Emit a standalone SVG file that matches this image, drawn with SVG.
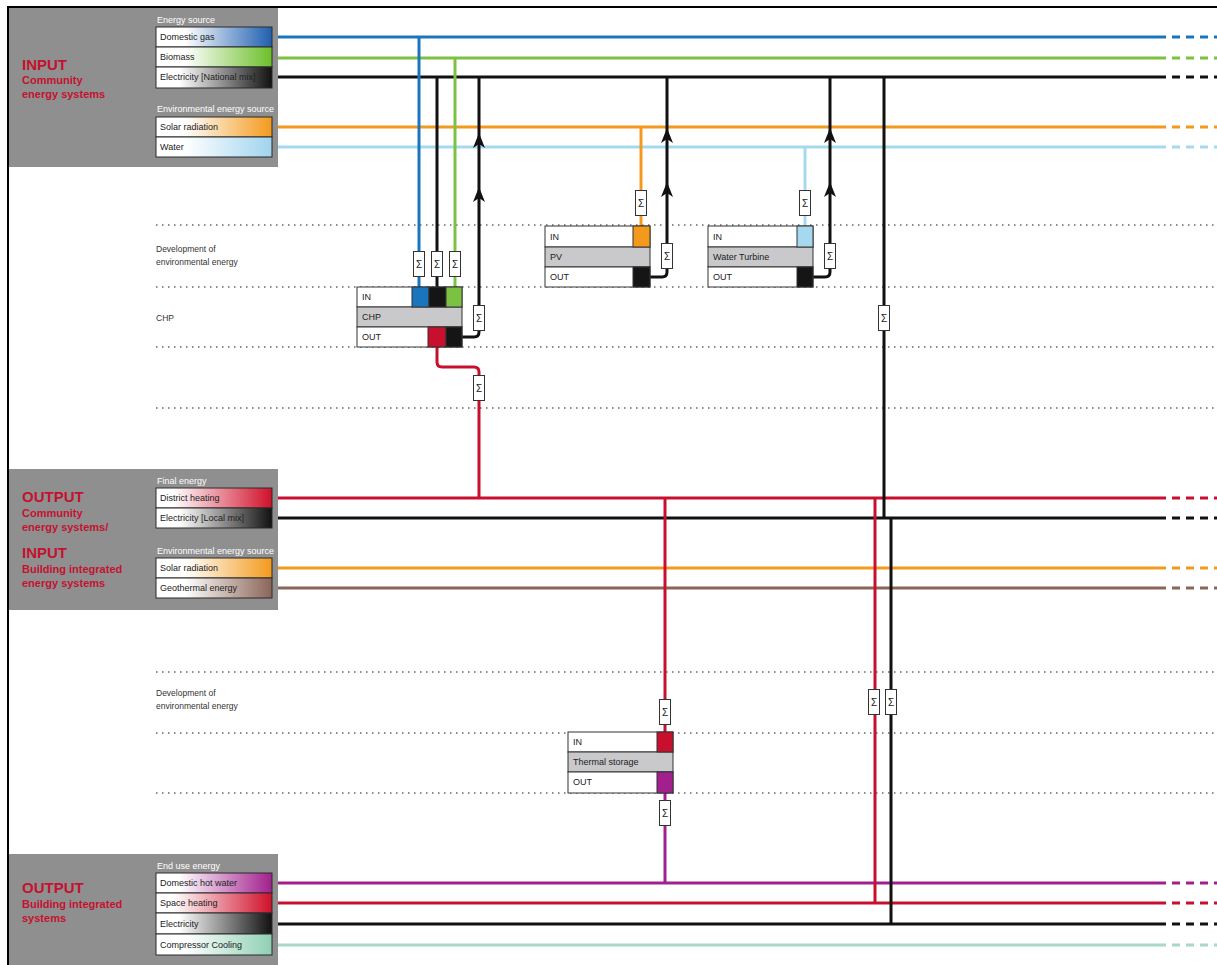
<svg xmlns="http://www.w3.org/2000/svg" width="1217" height="965" viewBox="0 0 1217 965">
<style>
text{font-family:"Liberation Sans",Arial,sans-serif;}
.panel{fill:#8f8f90;}
.hd{font-size:15px;font-weight:bold;fill:#c4122f;}
.sub{font-size:11px;font-weight:bold;fill:#c4122f;}
.cap{font-size:9px;fill:#fff;}
.lbl{font-size:9px;fill:#222;}
.box{stroke:#2a2a2a;stroke-width:1;}
.dot{stroke:#666;stroke-width:1.3;stroke-dasharray:1.5 4.5;fill:none;}
.side{font-size:8.5px;fill:#333;}
.sig rect{fill:#fff;stroke:#333;stroke-width:1;}
.sig text{font-size:10px;fill:#222;text-anchor:middle;}
.ln{fill:none;stroke-width:3;}
.dash{fill:none;stroke-width:3;stroke-dasharray:8 6;}
.blk{fill:#fff;stroke:#333;stroke-width:1;}
.mid{fill:#c9c9cb;stroke:#333;stroke-width:1;}
.ah{fill:#111;}
</style>
<defs>
<linearGradient id="gBlue"><stop offset="0.25" stop-color="#fff"/><stop offset="1" stop-color="#1f5fb0"/></linearGradient>
<linearGradient id="gGreen"><stop offset="0.25" stop-color="#fff"/><stop offset="1" stop-color="#6cbf2a"/></linearGradient>
<linearGradient id="gBlack"><stop offset="0.2" stop-color="#fff"/><stop offset="1" stop-color="#111"/></linearGradient>
<linearGradient id="gOrange"><stop offset="0.25" stop-color="#fff"/><stop offset="1" stop-color="#f39a1c"/></linearGradient>
<linearGradient id="gLBlue"><stop offset="0.25" stop-color="#fff"/><stop offset="1" stop-color="#9fd4ee"/></linearGradient>
<linearGradient id="gRed"><stop offset="0.15" stop-color="#fff"/><stop offset="1" stop-color="#d0102a"/></linearGradient>
<linearGradient id="gBrown"><stop offset="0.25" stop-color="#fff"/><stop offset="1" stop-color="#8a6558"/></linearGradient>
<linearGradient id="gPurple"><stop offset="0.2" stop-color="#fff"/><stop offset="1" stop-color="#a2208e"/></linearGradient>
<linearGradient id="gMint"><stop offset="0.25" stop-color="#fff"/><stop offset="1" stop-color="#8fd0b4"/></linearGradient>
<path id="arrow" class="ah" d="M0 0 L6 15 L0 11 L-6 15 Z"/>
<g id="sigma" class="sig"><rect x="-5.5" y="-12.5" width="11" height="25"/><text x="0" y="4">Σ</text></g>
</defs>

<rect x="0" y="0" width="1217" height="965" fill="#fff"/>
<path d="M8 965 V7 H1217" fill="none" stroke="#000" stroke-width="2"/>

<!-- dotted guide lines -->
<g id="guides">
<line class="dot" x1="156" y1="225" x2="1214" y2="225"/>
<line class="dot" x1="156" y1="287" x2="1214" y2="287"/>
<line class="dot" x1="156" y1="347" x2="1214" y2="347"/>
<line class="dot" x1="156" y1="408" x2="1214" y2="408"/>
<line class="dot" x1="156" y1="672" x2="1214" y2="672"/>
<line class="dot" x1="156" y1="733" x2="1214" y2="733"/>
<line class="dot" x1="156" y1="793" x2="1214" y2="793"/>
<text class="side" x="156" y="252">Development of</text>
<text class="side" x="156" y="265">environmental energy</text>
<text class="side" x="156" y="321">CHP</text>
<text class="side" x="156" y="696">Development of</text>
<text class="side" x="156" y="709">environmental energy</text>
</g>

<!-- horizontal bus lines -->
<g id="buses">
<line class="ln" stroke="#1b75bc" x1="272" y1="37" x2="1166" y2="37"/><line class="dash" stroke="#1b75bc" x1="1172" y1="37" x2="1217" y2="37"/>
<line class="ln" stroke="#7cc242" x1="272" y1="58" x2="1166" y2="58"/><line class="dash" stroke="#7cc242" x1="1172" y1="58" x2="1217" y2="58"/>
<line class="ln" stroke="#111" x1="272" y1="77" x2="1166" y2="77"/><line class="dash" stroke="#111" x1="1172" y1="77" x2="1217" y2="77"/>
<line class="ln" stroke="#f39a1c" x1="272" y1="127" x2="1166" y2="127"/><line class="dash" stroke="#f39a1c" x1="1172" y1="127" x2="1217" y2="127"/>
<line class="ln" stroke="#a6d8f0" x1="272" y1="147" x2="1166" y2="147"/><line class="dash" stroke="#a6d8f0" x1="1172" y1="147" x2="1217" y2="147"/>
<line class="ln" stroke="#c8102e" x1="272" y1="498" x2="1166" y2="498"/><line class="dash" stroke="#c8102e" x1="1172" y1="498" x2="1217" y2="498"/>
<line class="ln" stroke="#111" stroke-width="2" x1="272" y1="518" x2="1166" y2="518"/><line class="dash" stroke="#111" stroke-width="2.5" x1="1172" y1="518" x2="1217" y2="518"/>
<line class="ln" stroke="#f39a1c" x1="272" y1="568" x2="1166" y2="568"/><line class="dash" stroke="#f39a1c" x1="1172" y1="568" x2="1217" y2="568"/>
<line class="ln" stroke="#8a6558" x1="272" y1="588" x2="1166" y2="588"/><line class="dash" stroke="#8a6558" x1="1172" y1="588" x2="1217" y2="588"/>
<line class="ln" stroke="#a2208e" x1="272" y1="883" x2="1166" y2="883"/><line class="dash" stroke="#a2208e" x1="1172" y1="883" x2="1217" y2="883"/>
<line class="ln" stroke="#c8102e" x1="272" y1="903" x2="1166" y2="903"/><line class="dash" stroke="#c8102e" x1="1172" y1="903" x2="1217" y2="903"/>
<line class="ln" stroke="#111" x1="272" y1="924" x2="1166" y2="924"/><line class="dash" stroke="#111" x1="1172" y1="924" x2="1217" y2="924"/>
<line class="ln" stroke="#a8d8c6" x1="272" y1="945" x2="1166" y2="945"/><line class="dash" stroke="#a8d8c6" x1="1172" y1="945" x2="1217" y2="945"/>
</g>

<!-- connectors -->
<g id="connectors">
<path class="ln" stroke="#1b75bc" d="M419 37 V287"/>
<path class="ln" stroke="#111" d="M437 77 V287"/>
<path class="ln" stroke="#7cc242" d="M455 58 V287"/>
<path class="ln" stroke="#111" d="M462 337 H474 Q479 337 479 332 V77"/>
<path class="ln" stroke="#c8102e" d="M437 347 V362 Q437 367 442 367 H474 Q479 367 479 372 V498"/>
<path class="ln" stroke="#f39a1c" d="M641 127 V226"/>
<path class="ln" stroke="#111" d="M650 277 H662 Q667 277 667 272 V77"/>
<path class="ln" stroke="#a6d8f0" d="M805 147 V226"/>
<path class="ln" stroke="#111" d="M813 277 H825 Q830 277 830 272 V77"/>
<path class="ln" stroke="#111" stroke-width="2" d="M884 77 V518"/>
<path class="ln" stroke="#c8102e" stroke-width="2.5" d="M875 498 V903"/>
<path class="ln" stroke="#111" stroke-width="2.5" d="M891 518 V924"/>
<path class="ln" stroke="#c8102e" d="M665 498 V732"/>
<path class="ln" stroke="#a2208e" d="M665 793 V883"/>
<!-- arrowheads -->
<use href="#arrow" x="479" y="133"/>
<use href="#arrow" x="479" y="187"/>
<use href="#arrow" x="667" y="128"/>
<use href="#arrow" x="667" y="182"/>
<use href="#arrow" x="830" y="128"/>
<use href="#arrow" x="830" y="182"/>
<!-- sigma boxes -->
<use href="#sigma" x="419" y="264"/>
<use href="#sigma" x="437" y="264"/>
<use href="#sigma" x="455" y="264"/>
<use href="#sigma" x="479" y="318"/>
<use href="#sigma" x="479" y="388"/>
<use href="#sigma" x="641" y="203"/>
<use href="#sigma" x="667" y="256"/>
<use href="#sigma" x="805" y="203"/>
<use href="#sigma" x="830" y="256"/>
<use href="#sigma" x="884" y="318"/>
<use href="#sigma" x="665" y="712"/>
<use href="#sigma" x="665" y="813"/>
<use href="#sigma" x="874" y="702"/>
<use href="#sigma" x="891" y="702"/>
</g>

<!-- panel 1 -->
<g id="panel-input-community">
<rect class="panel" x="9" y="8" width="269" height="159"/>
<text class="hd" x="22" y="70">INPUT</text>
<text class="sub" x="22" y="84">Community</text>
<text class="sub" x="22" y="98">energy systems</text>
<text class="cap" x="157" y="23">Energy source</text>
<rect class="box" x="156" y="27" width="116" height="20" fill="url(#gBlue)"/>
<rect class="box" x="156" y="47" width="116" height="20" fill="url(#gGreen)"/>
<rect class="box" x="156" y="67" width="116" height="21" fill="url(#gBlack)"/>
<text class="lbl" x="160" y="40">Domestic gas</text>
<text class="lbl" x="160" y="60">Biomass</text>
<text class="lbl" x="160" y="80">Electricity [National mix]</text>
<text class="cap" x="157" y="112">Environmental energy source</text>
<rect class="box" x="156" y="117" width="116" height="20" fill="url(#gOrange)"/>
<rect class="box" x="156" y="137" width="116" height="20" fill="url(#gLBlue)"/>
<text class="lbl" x="160" y="130">Solar radiation</text>
<text class="lbl" x="160" y="150">Water</text>
</g>

<!-- panel 2 -->
<g id="panel-output-community">
<rect class="panel" x="9" y="469" width="269" height="141"/>
<text class="hd" x="22" y="502">OUTPUT</text>
<text class="sub" x="22" y="517">Community</text>
<text class="sub" x="22" y="531">energy systems/</text>
<text class="hd" x="22" y="558">INPUT</text>
<text class="sub" x="22" y="573">Building integrated</text>
<text class="sub" x="22" y="587">energy systems</text>
<text class="cap" x="157" y="484">Final energy</text>
<rect class="box" x="156" y="488" width="116" height="20" fill="url(#gRed)"/>
<rect class="box" x="156" y="508" width="116" height="20" fill="url(#gBlack)"/>
<text class="lbl" x="160" y="501">District heating</text>
<text class="lbl" x="160" y="521" font-size="8.5">Electricity [Local mix]</text>
<text class="cap" x="157" y="554">Environmental energy source</text>
<rect class="box" x="156" y="558" width="116" height="20" fill="url(#gOrange)"/>
<rect class="box" x="156" y="578" width="116" height="20" fill="url(#gBrown)"/>
<text class="lbl" x="160" y="571">Solar radiation</text>
<text class="lbl" x="160" y="591">Geothermal energy</text>
</g>

<!-- panel 3 -->
<g id="panel-output-building">
<rect class="panel" x="9" y="854" width="269" height="111"/>
<text class="hd" x="22" y="893">OUTPUT</text>
<text class="sub" x="22" y="908">Building integrated</text>
<text class="sub" x="22" y="922">systems</text>
<text class="cap" x="157" y="869">End use energy</text>
<rect class="box" x="156" y="873" width="116" height="20" fill="url(#gPurple)"/>
<rect class="box" x="156" y="893" width="116" height="20" fill="url(#gRed)"/>
<rect class="box" x="156" y="913" width="116" height="21" fill="url(#gBlack)"/>
<rect class="box" x="156" y="934" width="116" height="21" fill="url(#gMint)"/>
<text class="lbl" x="160" y="886">Domestic hot water</text>
<text class="lbl" x="160" y="906">Space heating</text>
<text class="lbl" x="160" y="927">Electricity</text>
<text class="lbl" x="160" y="948">Compressor Cooling</text>
</g>

<!-- CHP -->
<g id="node-chp">
<rect class="blk" x="357" y="287" width="105" height="20"/>
<rect class="mid" x="357" y="307" width="105" height="20"/>
<rect class="blk" x="357" y="327" width="105" height="20"/>
<rect x="412" y="287" width="17" height="20" fill="#1b75bc" stroke="#333"/>
<rect x="429" y="287" width="17" height="20" fill="#151515" stroke="#333"/>
<rect x="446" y="287" width="16" height="20" fill="#7cc242" stroke="#333"/>
<rect x="428" y="327" width="18" height="20" fill="#c8102e" stroke="#333"/>
<rect x="446" y="327" width="16" height="20" fill="#151515" stroke="#333"/>
<text class="lbl" x="362" y="300">IN</text>
<text class="lbl" x="362" y="320">CHP</text>
<text class="lbl" x="362" y="340">OUT</text>
</g>

<!-- PV -->
<g id="node-pv">
<rect class="blk" x="545" y="226" width="105" height="21"/>
<rect class="mid" x="545" y="247" width="105" height="20"/>
<rect class="blk" x="545" y="267" width="105" height="20"/>
<rect x="633" y="226" width="17" height="21" fill="#f39a1c" stroke="#333"/>
<rect x="633" y="267" width="17" height="20" fill="#151515" stroke="#333"/>
<text class="lbl" x="550" y="240">IN</text>
<text class="lbl" x="550" y="260">PV</text>
<text class="lbl" x="550" y="280">OUT</text>
</g>

<!-- Water turbine -->
<g id="node-water-turbine">
<rect class="blk" x="708" y="226" width="105" height="21"/>
<rect class="mid" x="708" y="247" width="105" height="20"/>
<rect class="blk" x="708" y="267" width="105" height="20"/>
<rect x="797" y="226" width="16" height="21" fill="#a6d8f0" stroke="#333"/>
<rect x="797" y="267" width="16" height="20" fill="#151515" stroke="#333"/>
<text class="lbl" x="713" y="240">IN</text>
<text class="lbl" x="713" y="260">Water Turbine</text>
<text class="lbl" x="713" y="280">OUT</text>
</g>

<!-- Thermal storage -->
<g id="node-thermal-storage">
<rect class="blk" x="568" y="732" width="105" height="20"/>
<rect class="mid" x="568" y="752" width="105" height="20"/>
<rect class="blk" x="568" y="772" width="105" height="21"/>
<rect x="657" y="732" width="16" height="20" fill="#c8102e" stroke="#333"/>
<rect x="657" y="772" width="16" height="21" fill="#a2208e" stroke="#333"/>
<text class="lbl" x="573" y="745">IN</text>
<text class="lbl" x="573" y="765">Thermal storage</text>
<text class="lbl" x="573" y="785">OUT</text>
</g>
</svg>
